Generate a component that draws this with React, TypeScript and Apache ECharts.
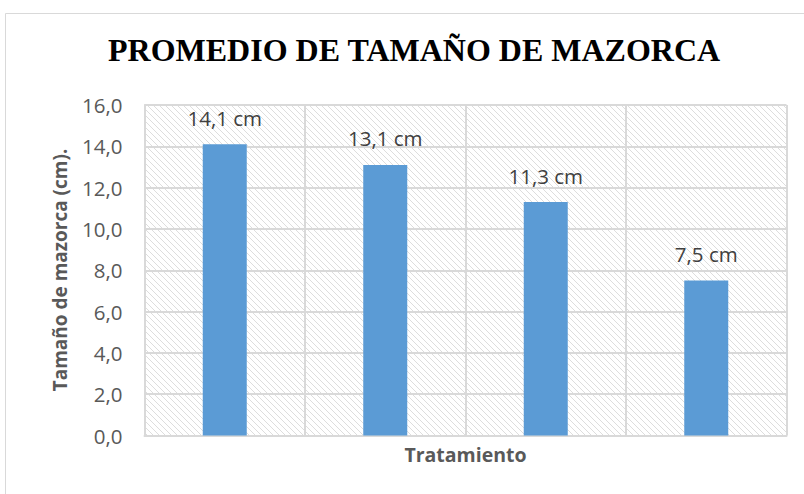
import React, { useEffect, useRef } from "react";
import * as echarts from "echarts";

const categories = ["T1", "T2", "T3", "T4"];
const values = [14.1, 13.1, 11.3, 7.5];
const yTicks = [0, 2, 4, 6, 8, 10, 12, 14, 16];

const titleText = "PROMEDIO DE TAMAÑO DE MAZORCA";
const xName = "Tratamiento";
const yName = "Tamaño de mazorca (cm).";

function makeHatch(): HTMLCanvasElement {
  const c = document.createElement("canvas");
  const s = 6;
  c.width = s;
  c.height = s;
  const ctx = c.getContext("2d")!;
  ctx.fillStyle = "#ffffff";
  ctx.fillRect(0, 0, s, s);
  ctx.strokeStyle = "#dddddd";
  ctx.lineWidth = 1;
  ctx.beginPath();
  ctx.moveTo(-1, -1);
  ctx.lineTo(s + 1, s + 1);
  ctx.moveTo(-1, s - 1);
  ctx.lineTo(1, s + 1);
  ctx.moveTo(s - 1, -1);
  ctx.lineTo(s + 1, 1);
  ctx.stroke();
  return c;
}

export default function App() {
  const ref = useRef<HTMLDivElement>(null);
  useEffect(() => {
    document.body.style.margin = "0";
    const chart = echarts.init(ref.current!, undefined, { renderer: "svg" });
    const fmt = (v: number) => v.toFixed(1).replace(".", ",");
    chart.setOption({
      animation: false,
      backgroundColor: "#ffffff",
      title: {
        text: titleText,
        left: 103,
        top: 29,
        textStyle: {
          fontFamily: "Liberation Serif",
          fontWeight: "bold",
          fontSize: 32,
          color: "#000000",
        },
      },
      graphic: [
        {
          type: "rect",
          shape: { x: 5.5, y: 13.5, width: 820, height: 500 },
          style: { fill: "none", stroke: "#d9d9d9", lineWidth: 1 },
          silent: true,
          z: -1,
        },
        {
          type: "text",
          x: 60,
          y: 270,
          rotation: Math.PI / 2,
          style: {
            text: yName,
            fontFamily: "Open Sans",
            fontWeight: "bold",
            fontSize: 19,
            fill: "#595959",
            align: "center",
            verticalAlign: "middle",
          },
        },
      ],
      grid: {
        left: 144.5,
        right: 17.5,
        top: 105,
        bottom: 58.5,
        show: true,
        borderWidth: 0,
        backgroundColor: { image: makeHatch(), repeat: "repeat" },
      },
      xAxis: {
        type: "category",
        data: categories,
        name: xName,
        nameLocation: "middle",
        nameGap: 9,
        nameTextStyle: {
          fontFamily: "Open Sans",
          fontWeight: "bold",
          fontSize: 19.5,
          color: "#595959",
          verticalAlign: "top",
        },
        axisLabel: { show: false },
        axisTick: { show: false },
        axisLine: { show: true, lineStyle: { color: "#d9d9d9", width: 2 } },
        splitLine: { show: true, lineStyle: { color: "#d9d9d9", width: 2 } },
      },
      yAxis: {
        type: "value",
        min: 0,
        max: 16,
        interval: 2,
        axisLabel: {
          formatter: (v: number) => fmt(v),
          fontFamily: "Open Sans",
          fontSize: 20.5,
          color: "#595959",
          margin: 22,
        },
        axisTick: { show: false },
        axisLine: { show: true, lineStyle: { color: "#d9d9d9", width: 2 } },
        splitLine: { show: true, lineStyle: { color: "#d9d9d9", width: 2 } },
      },
      series: [
        {
          type: "bar",
          data: values,
          barWidth: 44,
          itemStyle: { color: "#5b9bd5" },
          label: {
            show: true,
            position: "top",
            distance: 16,
            formatter: (p: any) => fmt(p.value) + " cm",
            fontFamily: "Open Sans",
            fontSize: 20.5,
            color: "#404040",
          },
        },
      ],
    });
    return () => chart.dispose();
  }, []);
  return <div ref={ref} style={{ width: 804, height: 494 }} />;
}
